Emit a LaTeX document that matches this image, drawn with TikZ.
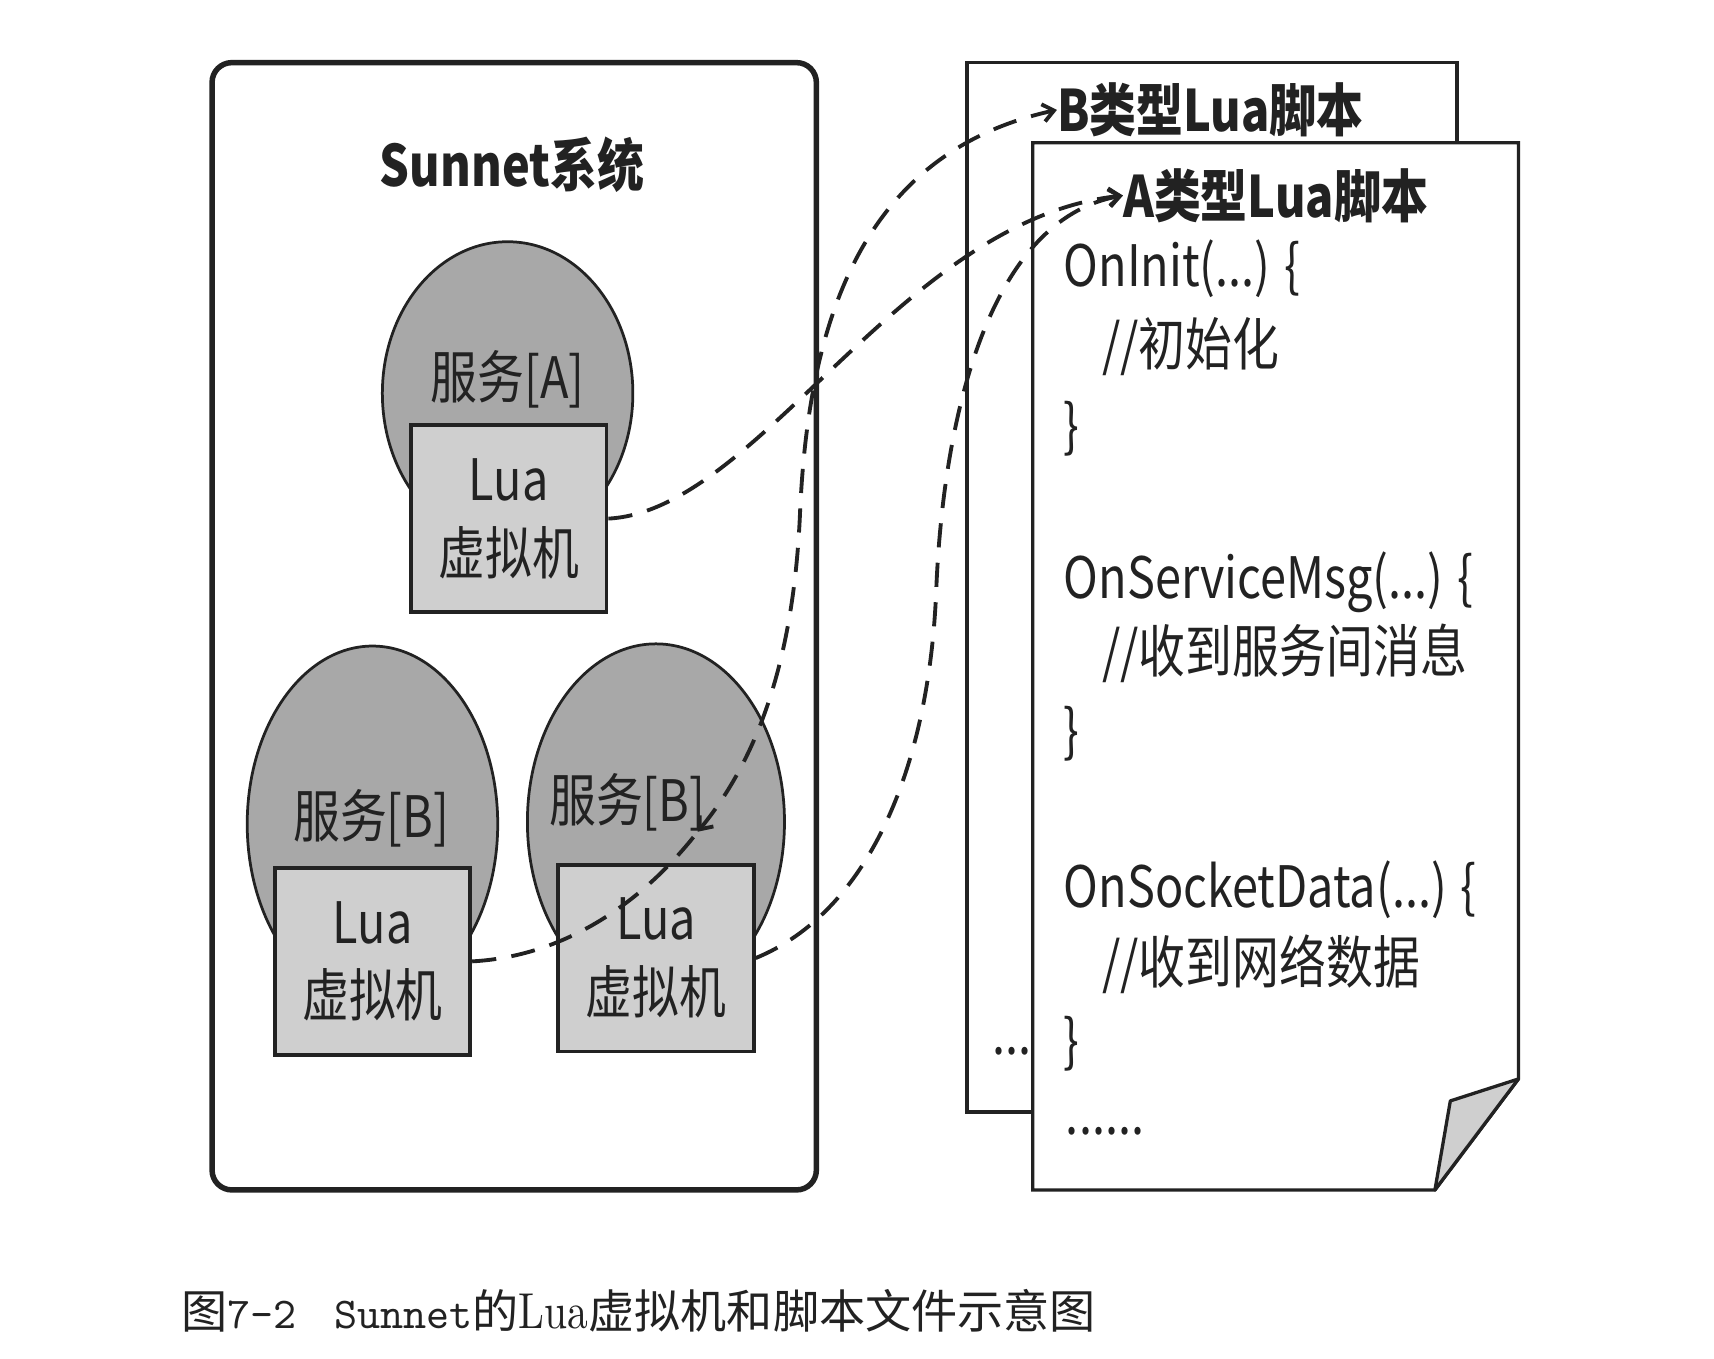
\documentclass[tikz,border=0pt]{standalone}
\usepackage{fontspec}
\usepackage{graphicx}
\setmainfont{Noto Sans CJK SC}
\newfontfamily\capmono{lmmono10-regular.otf}
\newfontfamily\capserif{lmroman10-regular.otf}
\usetikzlibrary{arrows.meta, shapes.geometric}

\definecolor{svcgray}{HTML}{A8A8A8}
\definecolor{vmgray}{HTML}{CFCFCF}
\definecolor{inkgray}{HTML}{222222}

\newcommand{\cond}[1]{\scalebox{0.82}[1]{#1}}

\tikzset{
    big/.style={font=\fontsize{52}{67}\selectfont, inner sep=0pt, text=inkgray},
    bigbold/.style={big, font=\fontsize{52}{60}\selectfont\bfseries},
    svc/.style={ellipse, draw=inkgray, line width=2.5pt, fill=svcgray, inner sep=0pt},
    vmbox/.style={big, draw=inkgray, line width=3.5pt, fill=vmgray, minimum width=178pt, minimum height=170pt, align=center},
    doc/.style={draw=inkgray, line width=3pt, fill=white},
    codeline/.style={big, anchor=west},
    dashlink/.style={draw=inkgray, line width=3.5pt, dash pattern=on 22pt off 14pt},
    >={Straight Barb[length=10pt,width=16pt]}
}

\begin{document}
\begin{tikzpicture}[x=1pt, y=-1pt]

    \fill[white] (0,0) rectangle (1560,1236);

%____________________________________________________________________________________________________
    % Sunnet system
    \draw[inkgray, line width=5pt, rounded corners=18pt] (193,57) rectangle (743,1083);
    \node[bigbold] (systitle) at (466,150) {\cond{Sunnet系统}};

    \node[svc, minimum width=228pt, minimum height=276pt] (svcA) at (462,358) {};
    \node[big] (svcAname) at (462,345) {\cond{服务[A]}};
    \node[vmbox] (luaA) at (463,472) {\cond{Lua}\\\cond{虚拟机}};

    \node[svc, minimum width=228pt, minimum height=324pt] (svcB1) at (339,750) {};
    \node[big] (svcB1name) at (338,745) {\cond{服务[B]}};
    \node[vmbox] (luaB1) at (339,875) {\cond{Lua}\\\cond{虚拟机}};

    \node[svc, minimum width=234pt, minimum height=324pt] (svcB2) at (597,748) {};
    \node[big] (svcB2name) at (571,730) {\cond{服务[B]}};
    \node[vmbox] (luaB2) at (597,872) {\cond{Lua}\\\cond{虚拟机}};

%____________________________________________________________________________________________________
    % script files
    \draw[doc] (880,57) rectangle (1326,1012);
    \node[bigbold, anchor=west] (scriptB) at (962,100) {\cond{B类型Lua脚本}};
    \node[codeline] (moreB) at (903,957) {\cond{...}};

    \draw[doc] (940,130) -- (1382,130) -- (1382,982) -- (1306,1083) -- (940,1083) -- cycle;
    \draw[doc, fill=vmgray, line join=round] (1382,982) -- (1320,1002) -- (1306,1083) -- cycle;
    \node[bigbold, anchor=west] (scriptA) at (1022,178) {\cond{A类型Lua脚本}};

    \node[codeline] (init) at (968,245) {\cond{OnInit(...) \{}};
    \node[codeline] (initnote) at (1003,315) {\cond{//初始化}};
    \node[codeline] (initend) at (968,390) {\cond{\}}};
    \node[codeline] (msg) at (968,530) {\cond{OnServiceMsg(...) \{}};
    \node[codeline] (msgnote) at (1003,595) {\cond{//收到服务间消息}};
    \node[codeline] (msgend) at (968,668) {\cond{\}}};
    \node[codeline] (sock) at (968,810) {\cond{OnSocketData(...) \{}};
    \node[codeline] (socknote) at (1003,878) {\cond{//收到网络数据}};
    \node[codeline] (sockend) at (968,950) {\cond{\}}};
    \node[codeline] (moreA) at (970,1030) {\cond{......}};

%____________________________________________________________________________________________________
    % loading links
    \draw[dashlink, ->] (luaA.east) .. controls (690,465) and (820,200) .. (scriptA.west);
    \draw[dashlink, ->] (luaB2.east) .. controls (790,830) and (845,700) .. (852,540)
        .. controls (858,380) and (900,200) .. (scriptA.west);
    \coordinate (bend) at (635,757);
    \draw[dashlink] (luaB1.east) .. controls (520,870) and (590,815) .. (bend);
    \draw[dashlink, <->] (bend) .. controls (690,690) and (722,600) .. (728,470)
        .. controls (735,300) and (780,140) .. (scriptB.west);

%____________________________________________________________________________________________________
    \node[anchor=west, inner sep=0pt, text=inkgray] (caption) at (165,1193)
        {\fontsize{42}{50}\selectfont 图{\capmono\fontsize{40}{40}\selectfont 7-2}\hspace{34pt}{\capmono\fontsize{40}{40}\selectfont Sunnet}的{\capserif\fontsize{46}{40}\selectfont\cond{Lua}}虚拟机和脚本文件示意图};
\end{tikzpicture}
\end{document}
